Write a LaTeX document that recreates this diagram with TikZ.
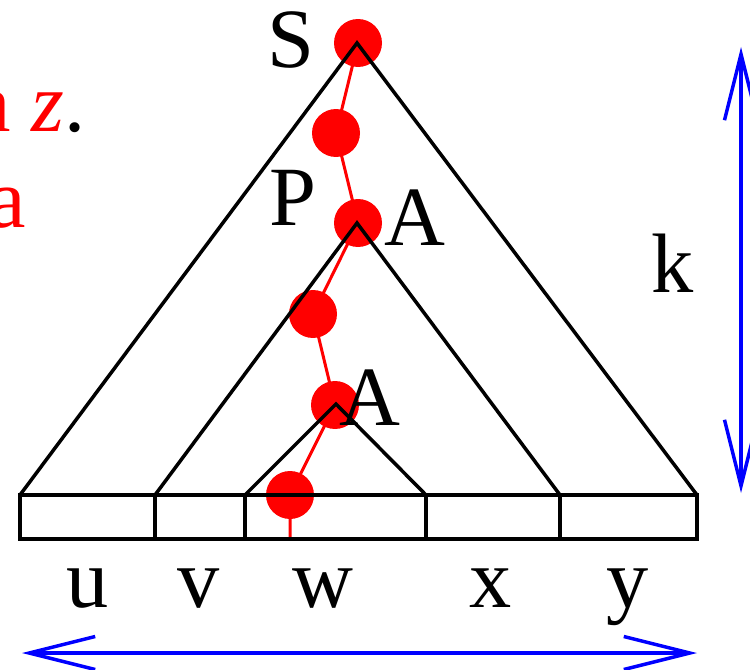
\documentclass[tikz,border=0pt]{standalone}
\usepackage{fontspec}
\setmainfont{Liberation Serif}
\usetikzlibrary{arrows.meta}
\begin{document}
\begin{tikzpicture}[x=0.02cm,y=-0.02cm,
  tree/.style={draw=black,line width=0.07cm,line join=miter},
  redpath/.style={draw=red,line width=0.06cm},
  dot/.style={circle,fill=red,minimum size=0.96cm,inner sep=0pt},
  lbl/.style={font=\fontsize{48}{56}\selectfont,anchor=base,inner sep=0pt},
  meas/.style={draw=blue,line width=0.07cm,{Straight Barb[length=1.32cm,width=0.66cm]}-{Straight Barb[length=1.32cm,width=0.66cm]}}]
\useasboundingbox (0,0) rectangle (750,669);
% red path of dots
\node[dot] (d1) at (358,43) {};
\node[dot] (d2) at (336,133) {};
\node[dot] (d3) at (358,223) {};
\node[dot] (d4) at (313,314) {};
\node[dot] (d5) at (335,405) {};
\node[dot] (d6) at (290,495) {};
\coordinate (dend) at (290,539);
\draw[redpath] (d1.center) -- (d2.center) -- (d3.center) -- (d4.center) -- (d5.center) -- (d6.center) -- (dend);
% trees
\coordinate (sT) at (357,43);
\coordinate (sL) at (20,495);
\coordinate (sR) at (697,495);
\coordinate (mT) at (357,223);
\coordinate (mL) at (155,495);
\coordinate (mR) at (560,495);
\coordinate (aT) at (336,404);
\coordinate (aL) at (245,495);
\coordinate (aR) at (426,495);
\draw[tree] (sL) -- (sT) -- (sR);
\draw[tree] (mL) -- (mT) -- (mR);
\draw[tree] (aL) -- (aT) -- (aR);
% string boxes
\coordinate (b5) at (697,539);
\draw[tree] (sL) rectangle (b5);
\coordinate (c1) at (155,539);
\coordinate (c2) at (245,539);
\coordinate (c3) at (426,539);
\coordinate (c4) at (560,539);
\draw[tree] (mL) -- (c1) (aL) -- (c2) (aR) -- (c3) (mR) -- (c4);
% labels
\node[lbl] (lS) at (291,68) {S};
\node[lbl] (lP) at (293,225) {P};
\node[lbl] (lA1) at (415,245) {A};
\node[lbl] (lA2) at (370,425) {A};
\node[lbl] (lk) at (673,292) {k};
\node[lbl] (lu) at (88,607) {u};
\node[lbl] (lv) at (199,607) {v};
\node[lbl] (lw) at (323,607) {w};
\node[lbl] (lx) at (491,607) {x};
\node[lbl] (ly) at (628,607) {y};
% red text at the left edge, cut off as in the reference
\node[lbl,anchor=base east] (t1) at (86,132) {\textcolor{red}{a \textit{z}}.};
\node[lbl,anchor=base east] (t2) at (26,227) {\textcolor{red}{a}};
% measure arrows
\coordinate (hl) at (22,653);
\coordinate (hr) at (697,653);
\draw[meas] (hl) -- (hr);
\coordinate (vt) at (741,47);
\coordinate (vb) at (741,493);
\draw[meas] (vt) -- (vb);
\end{tikzpicture}
\end{document}
